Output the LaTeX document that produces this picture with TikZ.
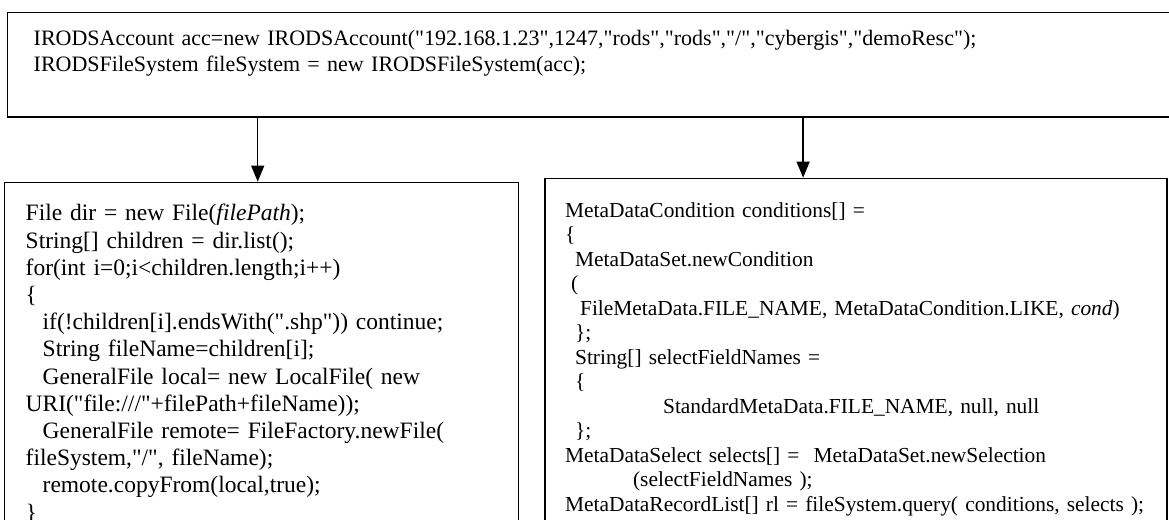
\documentclass[tikz,border=0pt]{standalone}
\usepackage{fontspec}
\setmainfont[Ligatures={TeXOff,NoCommon}]{Liberation Serif}
\usetikzlibrary{shapes,arrows.meta,positioning}
\tikzset{codebox/.style={rectangle, draw, line width=1.4pt, align=left, anchor=north west}}
\tikzset{initbox/.style={codebox, text width=1160pt, inner xsep=26pt, inner ysep=18pt, font=\fontsize{22}{26}\selectfont}}
\tikzset{uploadbox/.style={codebox, text width=472pt, inner xsep=21pt, inner ysep=22pt, font=\fontsize{23.5}{27.2}\selectfont}}
\tikzset{querybox/.style={codebox, text width=582pt, inner xsep=20pt, inner ysep=24pt, font=\fontsize{21.4}{24.5}\selectfont}}
\tikzset{line/.style={draw, line width=1.3pt, -{Triangle[length=16pt,width=13pt]}}}

\begin{document}
\begin{tikzpicture}[x=1pt,y=1pt]
        \useasboundingbox (0,0) rectangle (1169,-519);
        \clip (0,0) rectangle (1169,-519);
        \node[initbox] (init) at (7,-12) {IRODSAccount acc=new IRODSAccount("192.168.1.23",1247,"rods","rods","/","cybergis","demoResc");\\
IRODSFileSystem fileSystem = new IRODSFileSystem(acc);\\[1pt]\mbox{}};
        \node[uploadbox, below right=64pt and -3pt of init.south west, anchor=north west] (upload) {File dir = new File(\textit{filePath});\\
String[] children = dir.list();\\
for(int i=0;i<children.length;i++)\\
\{\\
\hspace*{17pt}if(!children[i].endsWith(".shp")) continue;\\
\hspace*{17pt}String fileName=children[i];\\
\hspace*{17pt}GeneralFile local= new LocalFile( new\\
URI("file:///"+filePath+fileName));\\
\hspace*{17pt}GeneralFile remote= FileFactory.newFile(\\
fileSystem,"/", fileName);\\
\hspace*{17pt}remote.copyFrom(local,true);\\
\}};
        \node[querybox, right=25pt of upload.north east, anchor=north west, yshift=4pt] (query) {MetaDataCondition conditions[] =\\
\{\\
\hspace*{10pt}MetaDataSet.newCondition\\
\hspace*{6pt}(\\
\hspace*{15pt}FileMetaData.FILE\_NAME, MetaDataCondition.LIKE, \textit{cond})\\
\hspace*{10pt}\};\\
\hspace*{10pt}String[] selectFieldNames =\\
\hspace*{10pt}\{\\
\hspace*{98pt}StandardMetaData.FILE\_NAME, null, null\\
\hspace*{10pt}\};\\
MetaDataSelect selects[] =\ \ MetaDataSet.newSelection\\
\hspace*{68pt}(selectFieldNames );\\
MetaDataRecordList[] rl = fileSystem.query( conditions, selects );};
        \coordinate[xshift=-4pt] (uin) at (upload.north);
        \coordinate[xshift=-53pt] (qin) at (query.north);

        \path[line] (init.south -| uin) -- (uin);
        \path[line] (init.south -| qin) -- (qin);
\end{tikzpicture}
\end{document}
